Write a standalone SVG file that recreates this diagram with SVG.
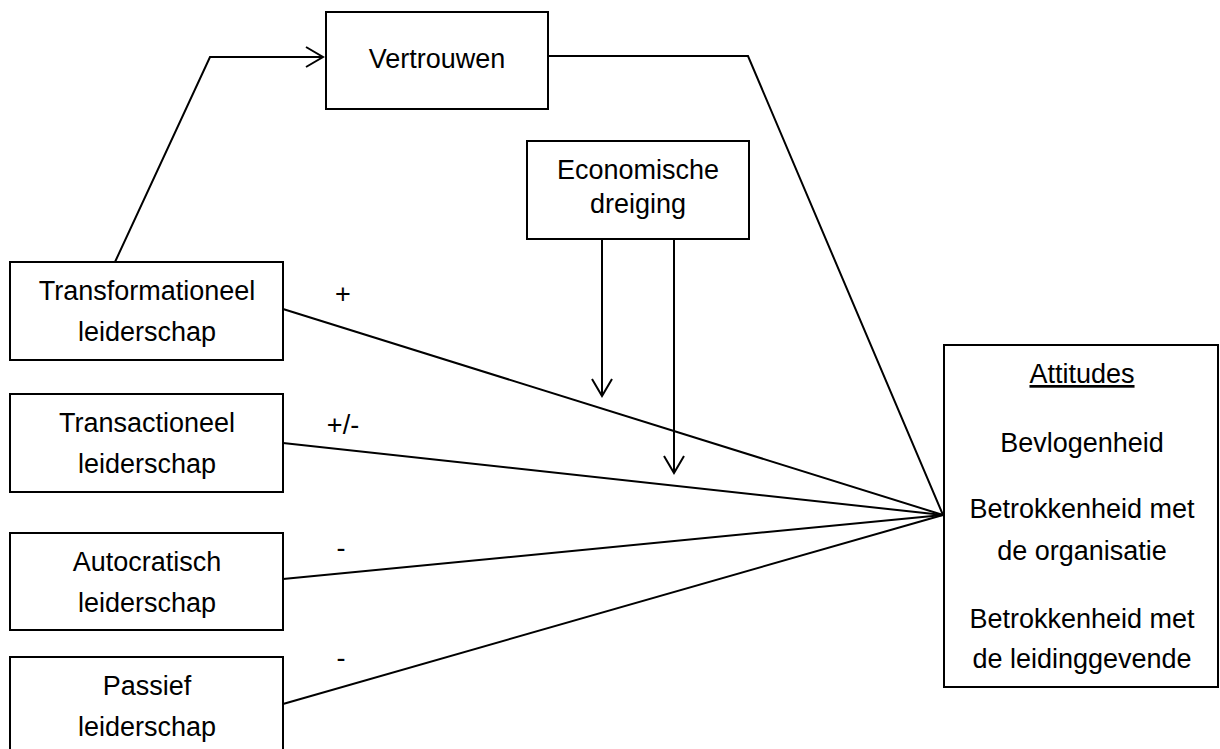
<svg xmlns="http://www.w3.org/2000/svg" width="1220" height="749" viewBox="0 0 1220 749">
  <style>
    .box { fill: #ffffff; stroke: #000000; stroke-width: 2; }
    .lbl { font-family: "Liberation Sans", Arial, sans-serif; font-size: 27px; fill: #000000; text-anchor: middle; }
    .sign { font-family: "Liberation Sans", Arial, sans-serif; font-size: 27px; fill: #000000; text-anchor: middle; }
    .conn { fill: none; stroke: #000000; stroke-width: 2; }
  </style>
  <defs>
    <marker id="arr" markerUnits="userSpaceOnUse" markerWidth="22" markerHeight="26" viewBox="0 0 22 26" refX="19" refY="13" orient="auto">
      <path d="M2,3 L19,13 L2,23" fill="none" stroke="#000000" stroke-width="2"/>
    </marker>
  </defs>
  <rect width="1220" height="749" fill="#ffffff"/>

  <g id="connectors">
    <polyline class="conn" points="115,262 210,57 323,57" marker-end="url(#arr)"/>
    <polyline class="conn" points="548,56 748,56 943,515"/>
    <line class="conn" x1="283" y1="309" x2="943" y2="515"/>
    <line class="conn" x1="283" y1="443" x2="943" y2="515"/>
    <line class="conn" x1="283" y1="579" x2="943" y2="515"/>
    <line class="conn" x1="283" y1="704" x2="943" y2="515"/>
    <line class="conn" x1="602" y1="239" x2="602" y2="396" marker-end="url(#arr)"/>
    <line class="conn" x1="674" y1="239" x2="674" y2="473" marker-end="url(#arr)"/>
    <text class="sign" x="343" y="303">+</text>
    <text class="sign" x="343" y="434">+/-</text>
    <text class="sign" x="341" y="557">-</text>
    <text class="sign" x="341" y="667">-</text>
  </g>

  <g id="vertrouwen">
    <rect class="box" x="326" y="12" width="222" height="97"/>
    <text class="lbl" x="437" y="68">Vertrouwen</text>
  </g>

  <g id="economische-dreiging">
    <rect class="box" x="527" y="141" width="222" height="98"/>
    <text class="lbl" x="638" y="179">Economische</text>
    <text class="lbl" x="638" y="213">dreiging</text>
  </g>

  <g id="transformationeel">
    <rect class="box" x="10" y="262" width="273" height="98"/>
    <text class="lbl" x="147" y="300">Transformationeel</text>
    <text class="lbl" x="147" y="341">leiderschap</text>
  </g>

  <g id="transactioneel">
    <rect class="box" x="10" y="394" width="273" height="98"/>
    <text class="lbl" x="147" y="432">Transactioneel</text>
    <text class="lbl" x="147" y="473">leiderschap</text>
  </g>

  <g id="autocratisch">
    <rect class="box" x="10" y="533" width="273" height="97"/>
    <text class="lbl" x="147" y="571">Autocratisch</text>
    <text class="lbl" x="147" y="612">leiderschap</text>
  </g>

  <g id="passief">
    <rect class="box" x="10" y="657" width="273" height="100"/>
    <text class="lbl" x="147" y="695">Passief</text>
    <text class="lbl" x="147" y="736">leiderschap</text>
  </g>

  <g id="attitudes">
    <rect class="box" x="944" y="345" width="274" height="342"/>
    <text class="lbl" x="1082" y="383" text-decoration="underline">Attitudes</text>
    <text class="lbl" x="1082" y="452">Bevlogenheid</text>
    <text class="lbl" x="1082" y="518">Betrokkenheid met</text>
    <text class="lbl" x="1082" y="560">de organisatie</text>
    <text class="lbl" x="1082" y="628">Betrokkenheid met</text>
    <text class="lbl" x="1082" y="668">de leidinggevende</text>
  </g>
</svg>
